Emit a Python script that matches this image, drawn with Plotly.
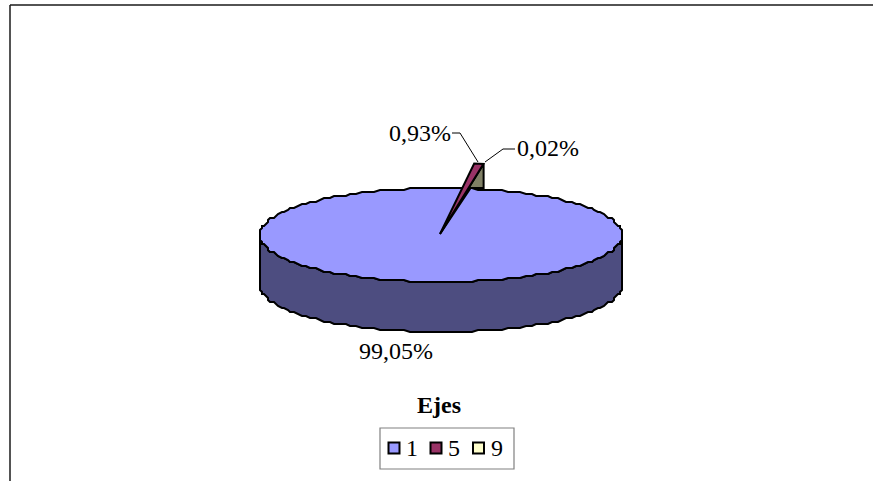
import numpy as np
import plotly.graph_objects as go

categories = ["1", "5", "9"]
values = [99.05, 0.93, 0.02]
pct_labels = ["99,05%", "0,93%", "0,02%"]
colors = ["#9999FF", "#993366", "#FFFFCC"]
side_color = "#4D4D80"
wall_color = "#808066"
title = "Ejes"
FONT = "Liberation Serif"

W, H = 873, 481
cx, cy, rx, ry, depth = 441, 235, 181, 47, 50
apex = (440, 234)
tip_scale = 1.51
end_angle = 9.14            # degrees clockwise from the top, end of the "5" slice
sweep_per_pct = 2.1         # on-screen degrees per percent for the pulled-out wedge


def rough(x, y, q=2.0):
    return np.round(np.asarray(x) / q) * q, np.round(np.asarray(y) / q) * q


def wedge_point(deg):
    t = np.radians(deg)
    return apex[0] + rx * tip_scale * np.sin(t), apex[1] - ry * tip_scale * np.cos(t)


fig = go.Figure()
line = dict(color="black", width=2)

# rim of the top face, 2 degree steps
t = np.radians(np.arange(0, 362, 2))
ex, ey = rough(cx + rx * np.sin(t), cy - ry * np.cos(t))

# side wall follows the front half of the same rim
front_x, front_y = ex[45:136], ey[45:136]
sx = np.concatenate([front_x, front_x[::-1], front_x[:1]])
sy = np.concatenate([front_y + depth, front_y[::-1], front_y[:1] + depth])
fig.add_trace(go.Scatter(x=sx, y=sy, mode="lines", fill="toself",
                         fillcolor=side_color, line=line, hoverinfo="skip", showlegend=False))

# top face (slice "1")
fig.add_trace(go.Scatter(x=ex, y=ey, mode="lines", fill="toself", fillcolor=colors[0],
                         line=line, hoverinfo="skip", showlegend=False))

# pulled-out slices "5" and "9"
start_5 = end_angle - values[1] * sweep_per_pct
end_9 = end_angle + values[2] * sweep_per_pct
t5a = wedge_point(start_5)
t5b = wedge_point(end_angle)
t9 = wedge_point(end_9)
rim_y = cy - ry
fig.add_trace(go.Scatter(
    x=[apex[0], t9[0], t9[0], t9[0] - 13, apex[0]],
    y=[apex[1], t9[1], rim_y, rim_y, apex[1]],
    mode="lines", fill="toself", fillcolor=wall_color, line=line,
    hoverinfo="skip", showlegend=False))
fig.add_trace(go.Scatter(
    x=[apex[0], t5a[0], t5b[0], apex[0]],
    y=[apex[1], t5a[1], t5b[1], apex[1]],
    mode="lines", fill="toself", fillcolor=colors[1], line=line,
    hoverinfo="skip", showlegend=False))

# leader lines
thin = dict(color="black", width=1)
fig.add_trace(go.Scatter(x=[452, 460, 478], y=[133, 133, 162], mode="lines", line=thin,
                         hoverinfo="skip", showlegend=False))
fig.add_trace(go.Scatter(x=[485, 503, 515], y=[162, 149, 149], mode="lines", line=thin,
                         hoverinfo="skip", showlegend=False))

# legend swatches
leg_x = [394, 436, 478.5]
leg_y = 448
fig.add_trace(go.Scatter(
    x=leg_x, y=[leg_y] * 3, mode="markers", marker=dict(symbol="square", size=11, color=colors,
                                                        line=dict(color="black", width=2)),
    hoverinfo="skip", showlegend=False))

annotations = []
for txt, x, y in [(pct_labels[0], 396, 351), (pct_labels[1], 420, 133), (pct_labels[2], 548, 148)]:
    annotations.append(dict(x=x, y=y, text=txt, showarrow=False, xanchor="center", yanchor="middle",
                            font=dict(family=FONT, size=24, color="black")))
annotations.append(dict(x=439, y=405, text=f"<b>{title}</b>", showarrow=False,
                        xanchor="center", yanchor="middle",
                        font=dict(family=FONT, size=24, color="black")))
for lx, cat in zip(leg_x, categories):
    annotations.append(dict(x=lx + 18, y=leg_y, text=cat, showarrow=False, xanchor="center", yanchor="middle",
                            font=dict(family=FONT, size=24, color="black")))

shapes = [
    dict(type="line", x0=10, x1=10, y0=5, y1=481, line=dict(color="#1a1a1a", width=1.5)),
    dict(type="line", x0=10, x1=873, y0=5, y1=5, line=dict(color="#1a1a1a", width=1.5)),
    dict(type="rect", x0=380, x1=514, y0=428, y1=469, line=dict(color="#808080", width=1.2), layer="below"),
]

fig.update_layout(
    width=W, height=H, margin=dict(l=0, r=0, t=0, b=0),
    paper_bgcolor="white", plot_bgcolor="white", showlegend=False,
    xaxis=dict(range=[0, W], visible=False, fixedrange=True),
    yaxis=dict(range=[H, 0], visible=False, fixedrange=True),
    annotations=annotations, shapes=shapes,
)
fig.write_html("out.html", config={"displayModeBar": False},
               post_script="document.body.style.margin='0';document.body.style.overflow='hidden';")
